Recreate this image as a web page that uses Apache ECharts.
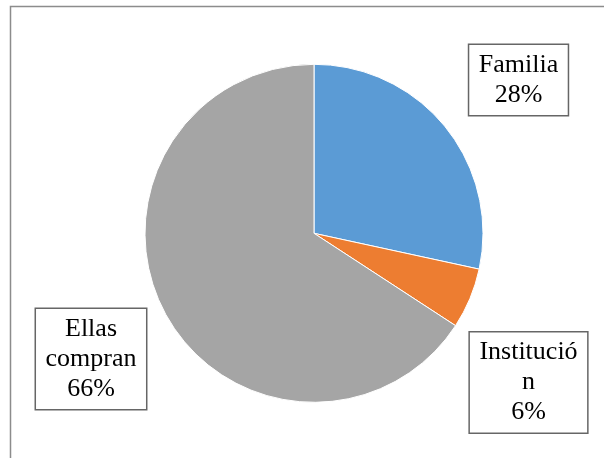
<!DOCTYPE html>
<html>
<head>
<meta charset="utf-8">
<script src="https://cdn.jsdelivr.net/npm/echarts@6/dist/echarts.min.js"></script>
<style>html,body{margin:0;padding:0;background:#fff;}#c{width:604px;height:458px;}</style>
</head>
<body>
<div id="c"></div>
<script>
const categories = ['Familia', 'Institución', 'Ellas compran'];
const values = [28.4, 5.8, 65.8];
const labelTexts = ['Familia', 'Institució\nn', 'Ellas\ncompran'];
const colors = ['#5B9BD5', '#ED7D31', '#A5A5A5'];
const labelCenters = [[518.5, 80], [528.5, 382.5], [91, 359]];

const chart = echarts.init(document.getElementById('c'), null, {renderer: 'canvas'});
chart.setOption({
  animation: false,
  graphic: [{
    type: 'rect',
    shape: {x: 10.5, y: 6.5, width: 700, height: 600},
    style: {fill: 'none', stroke: '#8c8c8c', lineWidth: 1.5},
    silent: true
  }],
  series: [{
    type: 'pie',
    center: [314, 233.3],
    radius: [0, 169],
    startAngle: 90,
    clockwise: true,
    itemStyle: {borderColor: '#fff', borderWidth: 1},
    labelLine: {show: false},
    label: {
      show: true,
      position: 'inside',
      overflow: 'none',
      formatter: function (p) { return labelTexts[p.dataIndex] + '\n' + Math.round(p.percent) + '%'; },
      fontFamily: 'Liberation Serif',
      fontSize: 26,
      lineHeight: 30,
      color: '#000',
      align: 'center',
      backgroundColor: '#fff',
      borderColor: '#666',
      borderWidth: 1.5,
      padding: [5, 9.5]
    },
    labelLayout: function (p) {
      const c = labelCenters[p.dataIndex];
      return {x: c[0], y: c[1], align: 'center', verticalAlign: 'middle'};
    },
    data: categories.map((n, i) => ({
      name: n,
      value: values[i],
      itemStyle: {color: colors[i]}
    }))
  }]
});
</script>
</body>
</html>
